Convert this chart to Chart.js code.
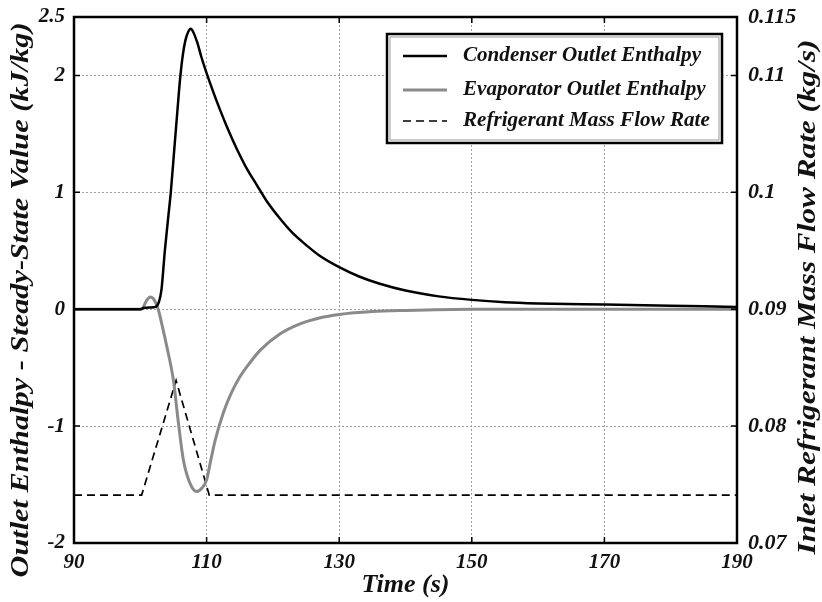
<!DOCTYPE html>
<html>
<head>
<meta charset="utf-8">
<script src="https://cdn.jsdelivr.net/npm/chart.js@4.4.0/dist/chart.umd.min.js"></script>
<style>
html,body{margin:0;padding:0;background:#fff;}
canvas{display:block;}
</style>
</head>
<body>
<canvas id="c" width="822" height="602"></canvas>
<script>
// ---- data ----
const xTicks = [90, 110, 130, 150, 170, 190];
const leftTicks = [-2, -1, 0, 1, 2, 2.5];
const leftTickLabels = ['-2', '-1', '0', '1', '2', '2.5'];
const rightTicks = [0.07, 0.08, 0.09, 0.1, 0.11, 0.115];
const rightTickLabels = ['0.07', '0.08', '0.09', '0.1', '0.11', '0.115'];

const condTime = [90, 100, 100.5, 101.5, 102.3, 102.8, 103.2, 103.7, 104.2, 104.6, 105.1, 105.6, 106.0, 106.4, 106.8, 107.2, 107.6, 108.0, 108.6, 109.2, 110, 111, 112, 113, 114, 115, 116, 117.6, 119, 121, 123, 125, 127, 130, 133, 136, 140, 145, 150, 155, 160, 170, 180, 190];
const condEnthalpy = [0, 0, 0.01, 0.015, 0.02, 0.06, 0.17, 0.5, 0.78, 1.0, 1.35, 1.7, 1.97, 2.17, 2.3, 2.37, 2.40, 2.37, 2.28, 2.16, 2.02, 1.86, 1.71, 1.57, 1.44, 1.32, 1.21, 1.06, 0.93, 0.78, 0.65, 0.55, 0.46, 0.36, 0.28, 0.22, 0.16, 0.11, 0.08, 0.06, 0.05, 0.04, 0.03, 0.02];

const evapTime = [90, 100.2, 100.9, 101.5, 102.1, 102.7, 103.3, 104.0, 105.0, 105.7, 106.5, 107.5, 108.5, 109.3, 110.0, 110.6, 111.3, 112.5, 113.7, 115.0, 116.5, 118.1, 121.1, 124.1, 127, 130, 135, 140, 150, 160, 190];
const evapEnthalpy = [0, 0, 0.07, 0.105, 0.08, 0.0, -0.14, -0.32, -0.61, -0.95, -1.29, -1.49, -1.56, -1.53, -1.46, -1.30, -1.12, -0.89, -0.72, -0.58, -0.46, -0.35, -0.21, -0.125, -0.075, -0.045, -0.02, -0.01, 0, 0, 0];

const flowTime = [90, 100.2, 105.4, 110.4, 190];
const flowRate = [0.0741, 0.0741, 0.0839, 0.0741, 0.0741];

const seriesNames = ['Condenser Outlet Enthalpy', 'Evaporator Outlet Enthalpy', 'Refrigerant Mass Flow Rate'];
const xTitle = 'Time (s)';
const leftTitle = 'Outlet Enthalpy - Steady-State Value (kJ/kg)';
const rightTitle = 'Inlet Refrigerant Mass Flow Rate (kg/s)';

// ---- styling ----
const FAM = '"Liberation Serif", "DejaVu Serif", serif';
const tickFont = {family: FAM, size: 21, style: 'italic', weight: 'bold'};
const rightTickFont = {family: FAM, size: 22, style: 'italic', weight: 'bold'};
const titleFont = {family: FAM, size: 26, style: 'italic', weight: 'bold'};

const toPts = (xs, ys) => xs.map((x, i) => ({x: x, y: ys[i]}));

function stretchedText(ctx, text, cx, cy, rot, targetW, font) {
  ctx.save();
  ctx.font = font;
  const w = ctx.measureText(text).width;
  ctx.translate(cx, cy);
  ctx.rotate(rot);
  ctx.scale(targetW / w, 1);
  ctx.textAlign = 'center';
  ctx.textBaseline = 'middle';
  ctx.fillText(text, 0, 0);
  ctx.restore();
}

const framePlugin = {
  id: 'frame',
  afterDraw(chart) {
    const ctx = chart.ctx;
    const a = chart.chartArea;
    const xs = chart.scales.x, yl = chart.scales.y, yr = chart.scales.y2;
    ctx.save();
    // inner tick marks
    ctx.strokeStyle = '#000';
    ctx.lineWidth = 1.5;
    const L = 6;
    ctx.beginPath();
    xTicks.forEach(v => {
      const px = xs.getPixelForValue(v);
      ctx.moveTo(px, a.bottom); ctx.lineTo(px, a.bottom - L);
      ctx.moveTo(px, a.top); ctx.lineTo(px, a.top + L);
    });
    leftTicks.forEach(v => {
      const py = yl.getPixelForValue(v);
      ctx.moveTo(a.left, py); ctx.lineTo(a.left + L, py);
    });
    rightTicks.forEach(v => {
      const py = yr.getPixelForValue(v);
      ctx.moveTo(a.right, py); ctx.lineTo(a.right - L, py);
    });
    ctx.stroke();
    // frame
    ctx.lineWidth = 2.5;
    ctx.strokeRect(a.left, a.top, a.right - a.left, a.bottom - a.top);

    // legend box
    const bx = 387, by = 34, bw = 335, bh = 109;
    ctx.fillStyle = '#fff';
    ctx.fillRect(bx, by, bw, bh);
    ctx.lineWidth = 2.5;
    ctx.strokeStyle = '#000';
    ctx.strokeRect(bx, by, bw, bh);
    ctx.lineWidth = 1;
    ctx.strokeStyle = '#999';
    ctx.strokeRect(bx + 3, by + 3, bw - 6, bh - 6);
    const rows = [56, 90, 121];
    const legFont = 'italic bold 21px ' + FAM;
    ctx.font = legFont;
    const legScale = 238 / ctx.measureText(chart.data.datasets[0].label).width;
    chart.data.datasets.forEach((ds, i) => {
      const y = rows[i];
      ctx.beginPath();
      ctx.strokeStyle = ds.borderColor;
      ctx.lineWidth = ds.borderWidth;
      ctx.setLineDash(ds.borderDash || []);
      ctx.moveTo(403, y); ctx.lineTo(447, y);
      ctx.stroke();
      ctx.setLineDash([]);
      ctx.save();
      ctx.fillStyle = '#111';
      ctx.font = legFont;
      ctx.textBaseline = 'middle';
      ctx.textAlign = 'left';
      ctx.translate(463, y);
      ctx.scale(legScale, 1);
      ctx.fillText(ds.label, 0, 0);
      ctx.restore();
    });

    // axis titles (both read bottom to top)
    ctx.fillStyle = '#111';
    const tf = 'italic bold 25px ' + FAM;
    stretchedText(ctx, leftTitle, 22, 300, -Math.PI / 2, 555, tf);
    stretchedText(ctx, rightTitle, 809, 297, -Math.PI / 2, 515, tf);
    ctx.restore();
  }
};

const zeroPadV = s => { s.paddingTop = 0; s.paddingBottom = 0; };

new Chart(document.getElementById('c'), {
  type: 'line',
  data: {
    datasets: [
      {label: seriesNames[0], data: toPts(condTime, condEnthalpy), yAxisID: 'y', borderColor: '#000', borderWidth: 2.5, pointRadius: 0, fill: false, cubicInterpolationMode: 'monotone'},
      {label: seriesNames[1], data: toPts(evapTime, evapEnthalpy), yAxisID: 'y', borderColor: '#8a8a8a', borderWidth: 3, pointRadius: 0, fill: false, cubicInterpolationMode: 'monotone'},
      {label: seriesNames[2], data: toPts(flowTime, flowRate), yAxisID: 'y2', borderColor: '#000', borderWidth: 1.7, borderDash: [8, 5], pointRadius: 0, fill: false, tension: 0}
    ]
  },
  options: {
    responsive: false,
    animation: false,
    layout: {padding: {top: 17, left: 0, right: 0, bottom: 0}},
    plugins: {legend: {display: false}, tooltip: {enabled: false}},
    scales: {
      x: {
        type: 'linear', min: 90, max: 190,
        afterBuildTicks: s => { s.ticks = xTicks.map(v => ({value: v})); },
        afterFit: s => { s.height = 59; s.paddingLeft = 0; s.paddingRight = 0; },
        ticks: {font: tickFont, color: '#111', padding: 7, maxRotation: 0, callback: v => String(v)},
        grid: {drawTicks: false, lineWidth: 1, color: c => (c.tick && (c.tick.value === 90 || c.tick.value === 190)) ? 'rgba(0,0,0,0)' : '#a0a0a0'},
        border: {display: false, dash: [2, 2]},
        title: {display: true, text: xTitle, font: titleFont, color: '#111', padding: {top: 0, bottom: 1}}
      },
      y: {
        type: 'linear', position: 'left', min: -2, max: 2.5,
        afterBuildTicks: s => { s.ticks = leftTicks.map(v => ({value: v})); },
        afterFit: s => { s.width = 74; zeroPadV(s); },
        ticks: {font: tickFont, color: '#111', padding: 9, callback: (v, i) => leftTickLabels[i]},
        grid: {drawTicks: false, lineWidth: 1, color: c => (c.tick && (c.tick.value === -2 || c.tick.value === 2.5)) ? 'rgba(0,0,0,0)' : '#a0a0a0'},
        border: {display: false, dash: [2, 2]},
        title: {display: false}
      },
      y2: {
        type: 'linear', position: 'right', min: 0.07, max: 0.115,
        afterBuildTicks: s => { s.ticks = rightTicks.map(v => ({value: v})); },
        afterFit: s => { s.width = 85; zeroPadV(s); },
        ticks: {font: rightTickFont, color: '#111', padding: 11, callback: (v, i) => rightTickLabels[i]},
        grid: {display: false, drawTicks: false},
        border: {display: false}
      }
    }
  },
  plugins: [framePlugin]
});
</script>
</body>
</html>
